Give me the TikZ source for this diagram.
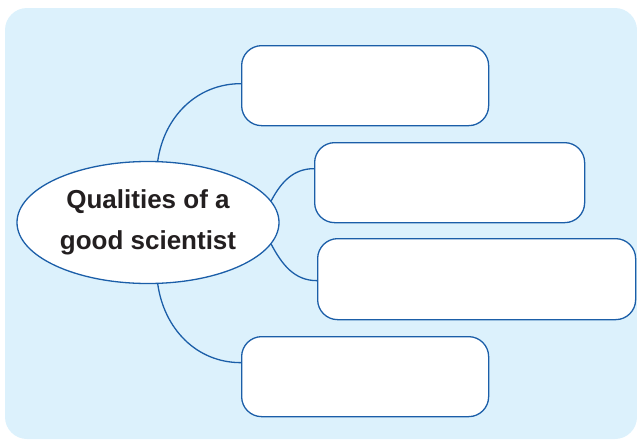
\documentclass[tikz,border=0pt]{standalone}
\usepackage{fontspec}
\setmainfont{Liberation Sans}
\usetikzlibrary{shapes.geometric}
\definecolor{bgblue}{HTML}{DCF1FC}
\definecolor{lineblue}{HTML}{1B5EA8}
\definecolor{txt}{HTML}{231F20}
\begin{document}
\begin{tikzpicture}[x=1pt,y=-1pt,
  answerbox/.style={draw=lineblue,line width=1.3pt,fill=white,rounded corners=20pt,inner sep=0pt,anchor=north west},
  link/.style={draw=lineblue,line width=1.3pt}]
\useasboundingbox (0,0) rectangle (637,439);
\fill[bgblue,rounded corners=22pt] (5,8) rectangle (637,439);
\node[ellipse,draw=lineblue,line width=1.3pt,fill=white,minimum width=262pt,minimum height=122pt,inner sep=0pt,
  align=center,font=\fontsize{26}{41}\selectfont\bfseries,text=txt] (c) at (148,222.5) {Qualities of a\\good scientist};
\node[answerbox,minimum width=247pt,minimum height=80pt] (b1) at (241,45) {};
\node[answerbox,minimum width=270pt,minimum height=80pt] (b2) at (314,142) {};
\node[answerbox,minimum width=318pt,minimum height=81pt] (b3) at (317,238) {};
\node[answerbox,minimum width=247pt,minimum height=80pt] (b4) at (241,336) {};
\draw[link] (c.81.5) to[out=82,in=180] ([yshift=2pt]b1.west);
\draw[link] (c.10) to[out=62,in=180] ([yshift=14pt]b2.west);
\draw[link] (c.-10) to[out=-62,in=180] ([yshift=-1.5pt]b3.west);
\draw[link] (c.-81.5) to[out=-82,in=180] ([yshift=14pt]b4.west);
\end{tikzpicture}
\end{document}
